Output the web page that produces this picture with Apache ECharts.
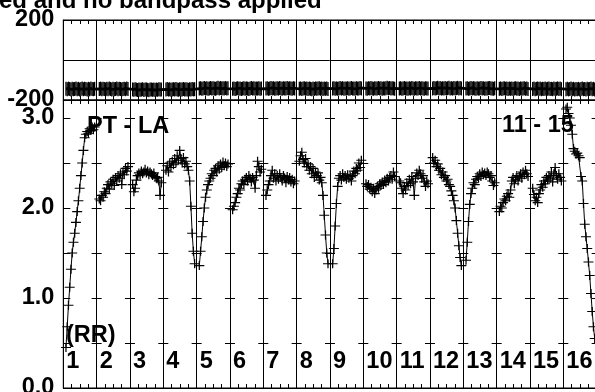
<!DOCTYPE html>
<html><head><meta charset="utf-8">
<script src="https://cdn.jsdelivr.net/npm/echarts@6/dist/echarts.min.js"></script>
<style>html,body{margin:0;padding:0;background:#fff;overflow:hidden}#c{width:595px;height:392px}</style>
</head><body><div id="c"></div>
<script>
// ---- data ----
const ifLabels = ['1','2','3','4','5','6','7','8','9','10','11','12','13','14','15','16'];
const ampTickLabels = ['0.0','1.0','2.0','3.0'];
const phaseTickLabels = ['-200','200'];
const titleText = 'ed and no bandpass applied';
const baselineText = 'PT - LA';
const timeText = '11 - 15';
const polText = '(RR)';

// amplitude per IF (24 channels each)
const amp01 = [0.45,0.68,0.92,1.12,1.32,1.50,1.62,1.72,1.84,1.96,2.08,2.22,2.36,2.50,2.64,2.78,2.82,2.85,2.83,2.88,2.86,2.90,2.87,2.90];
const amp02 = [2.10,2.08,2.14,2.12,2.18,2.16,2.22,2.26,2.21,2.29,2.27,2.32,2.25,2.34,2.30,2.36,2.33,2.38,2.26,2.40,2.37,2.44,2.41,2.46];
const amp03 = [2.26,2.18,2.22,2.31,2.36,2.39,2.37,2.41,2.38,2.40,2.43,2.39,2.41,2.37,2.40,2.38,2.36,2.39,2.35,2.33,2.34,2.30,2.14,2.28];
const amp04 = [2.42,2.47,2.40,2.50,2.45,2.52,2.48,2.55,2.50,2.58,2.53,2.64,2.55,2.50,2.56,2.49,2.52,2.46,2.42,2.30,2.02,1.72,1.52,1.38];
const amp05 = [1.36,1.52,1.68,1.85,2.00,2.12,2.20,2.26,2.30,2.33,2.38,2.36,2.42,2.44,2.40,2.47,2.43,2.49,2.45,2.51,2.47,2.50,2.46,2.49];
const amp06 = [1.98,2.02,2.06,2.12,2.16,2.22,2.20,2.27,2.30,2.26,2.32,2.34,2.30,2.36,2.33,2.29,2.34,2.31,2.22,2.36,2.52,2.46,2.40,2.43];
const amp07 = [2.14,2.20,2.26,2.30,2.36,2.42,2.33,2.38,2.30,2.36,2.32,2.38,2.34,2.30,2.36,2.33,2.28,2.35,2.31,2.34,2.29,2.32,2.27,2.30];
const amp08 = [2.52,2.58,2.62,2.54,2.50,2.55,2.46,2.49,2.42,2.46,2.38,2.44,2.34,2.40,2.36,2.39,2.31,2.34,2.28,2.14,1.92,1.70,1.50,1.38];
const amp09 = [1.38,1.55,1.80,2.05,2.24,2.33,2.36,2.31,2.38,2.34,2.36,2.32,2.37,2.33,2.35,2.30,2.36,2.41,2.38,2.44,2.42,2.50,2.45,2.53];
const amp10 = [2.27,2.24,2.26,2.21,2.23,2.18,2.22,2.16,2.20,2.24,2.22,2.27,2.25,2.29,2.26,2.31,2.28,2.33,2.30,2.34,2.36,2.32,2.40,2.35];
const amp11 = [2.30,2.28,2.22,2.16,2.24,2.20,2.28,2.25,2.32,2.27,2.35,2.29,2.14,2.33,2.39,2.36,2.42,2.38,2.33,2.36,2.29,2.24,2.30,2.27];
const amp12 = [2.56,2.50,2.53,2.46,2.49,2.42,2.44,2.37,2.40,2.34,2.36,2.30,2.32,2.26,2.24,2.19,2.14,2.08,2.00,1.86,1.72,1.58,1.45,1.36];
const amp13 = [1.42,1.62,1.85,2.04,2.16,2.22,2.28,2.26,2.32,2.35,2.33,2.38,2.35,2.40,2.37,2.39,2.36,2.40,2.38,2.34,2.36,2.30,2.25,2.28];
const amp14 = [1.96,2.02,2.00,2.06,2.10,2.08,2.13,2.16,2.12,2.20,2.30,2.34,2.27,2.32,2.36,2.30,2.35,2.38,2.33,2.40,2.37,2.42,2.38,2.35];
const amp15 = [2.22,2.15,2.08,2.12,2.06,2.16,2.20,2.26,2.23,2.30,2.27,2.34,2.31,2.36,2.33,2.40,2.29,2.38,2.45,2.36,2.32,2.38,2.34,2.30];
const amp16 = [3.10,3.12,3.05,3.00,2.92,2.82,2.66,2.63,2.60,2.61,2.58,2.56,2.35,2.30,2.05,1.82,1.68,1.55,1.40,1.25,1.05,0.85,0.68,0.55];

// phase per IF (degrees, 24 channels each)
const ph01 = [-144,-146,-143,-145,-147,-144,-146,-145,-143,-146,-144,-147,-145,-143,-146,-144,-145,-147,-144,-146,-143,-145,-146,-144];
const ph02 = [-145,-143,-146,-144,-145,-147,-144,-146,-143,-145,-147,-144,-146,-145,-143,-146,-144,-145,-147,-145,-144,-146,-143,-145];
const ph03 = [-147,-149,-146,-148,-150,-147,-149,-148,-146,-150,-148,-147,-149,-151,-148,-147,-149,-148,-150,-147,-149,-146,-148,-147];
const ph04 = [-147,-145,-148,-146,-149,-147,-146,-148,-145,-147,-149,-146,-148,-147,-145,-148,-146,-147,-149,-146,-148,-145,-147,-146];
const ph05 = [-143,-141,-144,-142,-140,-143,-141,-144,-142,-140,-143,-141,-142,-144,-141,-139,-142,-140,-143,-141,-142,-140,-143,-141];
const ph06 = [-144,-142,-145,-143,-141,-144,-142,-145,-143,-141,-144,-142,-143,-145,-142,-140,-143,-141,-144,-142,-143,-141,-144,-142];
const ph07 = [-143,-141,-144,-142,-140,-143,-141,-144,-142,-141,-143,-140,-142,-144,-141,-143,-142,-140,-143,-141,-142,-144,-141,-143];
const ph08 = [-144,-142,-145,-143,-141,-144,-143,-145,-142,-144,-146,-143,-145,-142,-144,-143,-141,-144,-142,-145,-143,-144,-142,-145];
const ph09 = [-143,-141,-144,-142,-144,-142,-140,-143,-141,-144,-142,-143,-141,-144,-142,-140,-143,-142,-144,-141,-143,-142,-140,-143];
const ph10 = [-142,-144,-141,-143,-140,-142,-144,-141,-143,-142,-140,-143,-141,-144,-142,-143,-141,-139,-142,-140,-143,-141,-142,-144];
const ph11 = [-143,-141,-144,-142,-140,-143,-142,-144,-141,-143,-140,-142,-144,-141,-143,-142,-140,-143,-141,-142,-144,-141,-143,-142];
const ph12 = [-142,-140,-143,-141,-139,-142,-140,-143,-141,-142,-140,-143,-141,-139,-142,-141,-143,-140,-142,-141,-139,-142,-140,-143];
const ph13 = [-143,-141,-144,-142,-140,-143,-141,-142,-144,-141,-143,-142,-140,-143,-141,-144,-142,-143,-141,-140,-143,-142,-144,-141];
const ph14 = [-144,-142,-145,-143,-141,-144,-142,-145,-143,-144,-142,-145,-143,-141,-144,-143,-145,-142,-144,-143,-141,-144,-142,-145];
const ph15 = [-145,-143,-146,-144,-142,-145,-143,-146,-144,-145,-143,-146,-144,-142,-145,-144,-146,-143,-145,-144,-142,-145,-143,-146];
const ph16 = [-146,-144,-147,-145,-143,-146,-144,-147,-145,-146,-144,-147,-145,-143,-146,-145,-147,-144,-146,-145,-143,-146,-144,-147];

const amplitude = [amp01,amp02,amp03,amp04,amp05,amp06,amp07,amp08,amp09,amp10,amp11,amp12,amp13,amp14,amp15,amp16];
const phase = [ph01,ph02,ph03,ph04,ph05,ph06,ph07,ph08,ph09,ph10,ph11,ph12,ph13,ph14,ph15,ph16];

// ---- layout / style ----
const EDGE = 0.08, SPAN = 0.86;      // channel spread inside each IF (axis units)
function chanX(i, k, n) { return i + EDGE + SPAN * k / (n - 1); }
const PLUS = 'path://M0,3.5H8V4.5H0ZM3.5,0H4.5V8H3.5Z';
const FONT = '"Liberation Sans", Arial, Helvetica, sans-serif';
const GL = 63.3, GW = 533.4;

const chart = echarts.init(document.getElementById('c'), null, {renderer:'canvas'});

const tickAxis = (grid, pos, split, label) => ({
  gridIndex: grid, type: 'value', min: 0, max: 16, interval: 1, position: pos,
  axisLine: {show: true, onZero: false, lineStyle: {color: '#000', width: 1}},
  axisTick: {show: true, inside: true, length: 4, lineStyle: {color: '#000'}},
  minorTick: {show: true, splitNumber: 4, length: 4, lineStyle: {color: '#000'}},
  splitLine: {show: split, lineStyle: {color: '#000', width: 1}},
  axisLabel: label || {show: false}
});

const series = [];
amplitude.forEach((arr, i) => {
  series.push({
    type: 'line', xAxisIndex: 2, yAxisIndex: 1,
    data: arr.map((v, k) => [chanX(i, k, arr.length), v]),
    symbol: PLUS, symbolSize: [10, 9], showAllSymbol: true,
    lineStyle: {color: '#000', width: 1}, itemStyle: {color: '#000'},
    silent: true, z: 5
  });
});
const phaseData = [];
phase.forEach((arr, i) => arr.forEach((v, k) => phaseData.push([chanX(i, k, arr.length), v])));
series.push({
  type: 'line', xAxisIndex: 0, yAxisIndex: 0, data: phaseData,
  symbol: 'rect', symbolSize: [1.3, 14], showAllSymbol: true,
  lineStyle: {color: '#000', width: 2.8}, itemStyle: {color: '#000'},
  silent: true, z: 5
});

const labelStyle = {color: '#000', fontFamily: FONT, fontWeight: 'bold', fontSize: 23.5};

chart.setOption({
  animation: false,
  backgroundColor: '#fff',
  grid: [
    {left: GL, top: 20, width: GW, height: 80, show: true, borderColor: '#000', borderWidth: 1, outerBoundsMode: 'none', containLabel: false},
    {left: GL, top: 100, width: GW, height: 288, show: true, borderColor: '#000', borderWidth: 1, outerBoundsMode: 'none', containLabel: false}
  ],
  xAxis: [
    tickAxis(0, 'bottom', true),
    tickAxis(0, 'top', false),
    tickAxis(1, 'bottom', true, Object.assign({
      show: true, inside: true, margin: 14, align: 'left', padding: [0, 0, 0, 3],
      formatter: v => (v < 16 ? ifLabels[v] : '')
    }, labelStyle)),
    tickAxis(1, 'top', false)
  ],
  yAxis: [
    {gridIndex: 0, type: 'value', min: -200, max: 200, interval: 200,
     axisLine: {show: true, lineStyle: {color: '#000'}},
     axisTick: {show: false},
     splitLine: {show: true, lineStyle: {color: '#000', width: 1}},
     axisLabel: Object.assign({margin: 9, formatter: v => (phaseTickLabels.includes(String(v)) ? String(v) : '')}, labelStyle)},
    {gridIndex: 1, type: 'value', min: 0, max: 3.2, interval: 0.5,
     axisLine: {show: true, lineStyle: {color: '#000'}},
     axisTick: {show: true, inside: true, length: 7, lineStyle: {color: '#000'}},
     splitLine: {show: true, lineStyle: {color: '#000', width: 1, type: [10, 23.334], dashOffset: 5}},
     axisLabel: Object.assign({margin: 9, showMaxLabel: false, formatter: v => { const s = v.toFixed(1); return ampTickLabels.includes(s) ? s : ''; }}, labelStyle)}
  ],
  graphic: [
    {type: 'text', x: -1, y: 1.5, silent: true, style: {text: titleText, font: 'bold 24px ' + FONT, fill: '#000', verticalAlign: 'middle', align: 'left'}},
    {type: 'text', x: 87, y: 127, z: 10, silent: true, style: {text: baselineText, font: 'bold 23.5px ' + FONT, fill: '#000', verticalAlign: 'middle', align: 'left'}},
    {type: 'text', x: 502, y: 126, z: 10, silent: true, style: {text: timeText, font: 'bold 23.5px ' + FONT, fill: '#000', verticalAlign: 'middle', align: 'left'}},
    {type: 'text', x: 66, y: 336, z: 10, silent: true, style: {text: polText, font: 'bold 23.5px ' + FONT, fill: '#000', verticalAlign: 'middle', align: 'left'}}
  ],
  series: series
});
</script></body></html>
